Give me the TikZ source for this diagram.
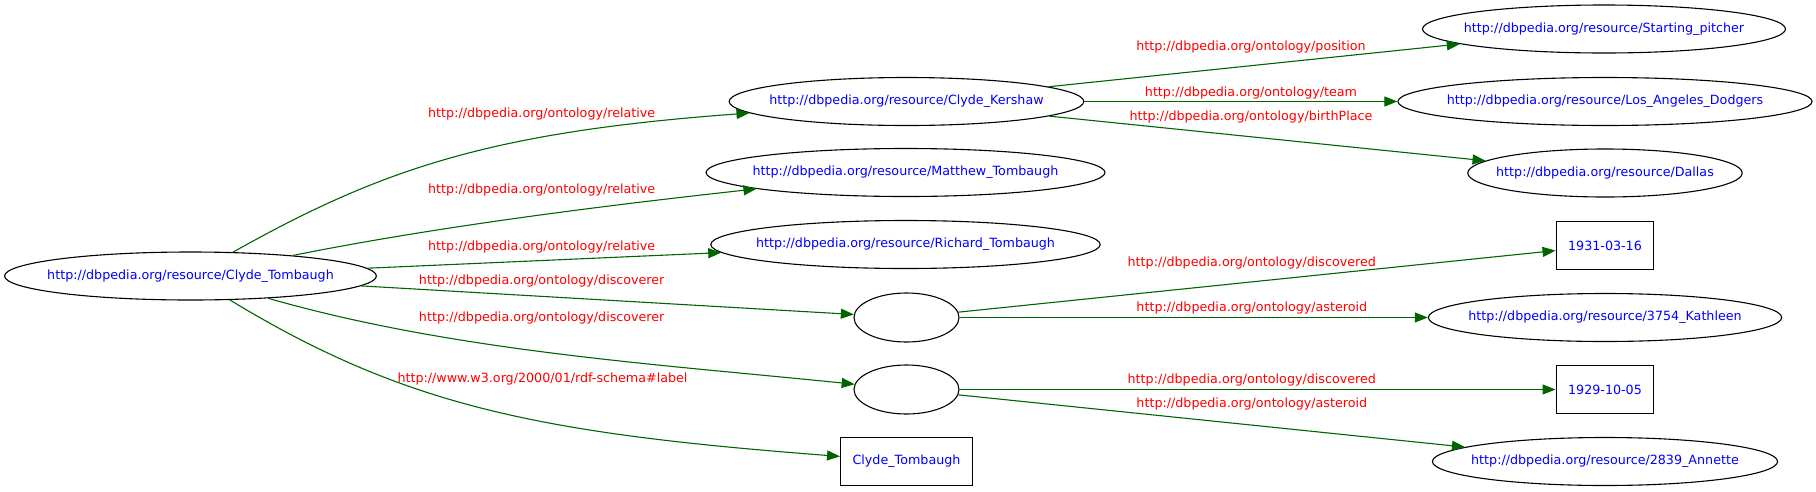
\documentclass[tikz,border=0pt]{standalone}
\usepackage{fontspec}
\setmainfont{DejaVu Sans}
\usetikzlibrary{arrows.meta,shapes.geometric}
\definecolor{linkgreen}{RGB}{0,100,0}
\tikzset{
  resnode/.style={ellipse, draw, line width=1.1pt, text=blue, inner xsep=-11.8pt, inner ysep=4pt, minimum height=48pt},
  blanknode/.style={ellipse, draw, line width=1.1pt, minimum width=105pt, minimum height=49pt},
  litnode/.style={rectangle, draw, line width=1.1pt, text=blue, inner xsep=12pt, minimum height=48pt},
  link/.style={draw=linkgreen, line width=1.1pt, -{Triangle[length=13pt,width=10pt]}},
  linklabel/.style={text=red, inner sep=0pt}
}

\begin{document}
\begin{tikzpicture}[x=1pt, y=-1pt, font=\fontsize{12.7}{15}\selectfont]
  \useasboundingbox (0,0) rectangle (1816,491);
  % subject and middle column
  \node[resnode] (tomb) at (190.5,276) {http://dbpedia.org/resource/Clyde\_Tombaugh};
  \node[resnode] (kers) at (906.5,101.5) {http://dbpedia.org/resource/Clyde\_Kershaw};
  \node[resnode] (matt) at (905.5,172.5) {http://dbpedia.org/resource/Matthew\_Tombaugh};
  \node[resnode] (rich) at (905.5,244.5) {http://dbpedia.org/resource/Richard\_Tombaugh};
  \node[blanknode] (bnA) at (906.5,317.5) {};
  \node[blanknode] (bnB) at (906.5,389.5) {};
  \node[litnode] (name) at (906.5,461.5) {Clyde\_Tombaugh};
  % right column
  \node[resnode] (pitch) at (1604,29) {http://dbpedia.org/resource/Starting\_pitcher};
  \node[resnode] (dodg) at (1605,101.5) {http://dbpedia.org/resource/Los\_Angeles\_Dodgers};
  \node[resnode] (dall) at (1605,173) {http://dbpedia.org/resource/Dallas};
  \node[litnode] (dateA) at (1605,245.5) {1931-03-16};
  \node[resnode] (kath) at (1605,317.5) {http://dbpedia.org/resource/3754\_Kathleen};
  \node[litnode] (dateB) at (1605,389.5) {1929-10-05};
  \node[resnode] (anne) at (1605,461.5) {http://dbpedia.org/resource/2839\_Annette};

  % curved links
  \draw[link] (tomb) .. controls (382,168.5) and (491,132) .. (kers);
  \draw[link] (tomb) .. controls (437,226.5) and (605,205.5) .. (matt);
  \draw[link] (tomb) .. controls (452,351) and (655,364) .. (bnB);
  \draw[link] (tomb) .. controls (406,407) and (541,433.5) .. (name);
  % straight links
  \foreach \from/\to in {tomb/rich, tomb/bnA, kers/pitch, kers/dodg, kers/dall,
                         bnA/dateA, bnA/kath, bnB/dateB, bnB/anne}
    \draw[link] (\from) -- (\to);

  % predicate labels
  \node[linklabel] (relA) at (541.7,114) {http://dbpedia.org/ontology/relative};
  \node[linklabel] (relB) at (541.7,190) {http://dbpedia.org/ontology/relative};
  \node[linklabel] (relC) at (541.7,246.7) {http://dbpedia.org/ontology/relative};
  \node[linklabel] (discA) at (541.7,280.7) {http://dbpedia.org/ontology/discoverer};
  \node[linklabel] (discB) at (541.7,318) {http://dbpedia.org/ontology/discoverer};
  \node[linklabel] (rdfs) at (542.5,379.3) {http://www.w3.org/2000/01/rdf-schema\#label};
  \node[linklabel] (posi) at (1251,47.3) {http://dbpedia.org/ontology/position};
  \node[linklabel] (team) at (1251,92.7) {http://dbpedia.org/ontology/team};
  \node[linklabel] (birth) at (1251,116.7) {http://dbpedia.org/ontology/birthPlace};
  \node[linklabel] (dscA) at (1251.8,263.3) {http://dbpedia.org/ontology/discovered};
  \node[linklabel] (astA) at (1251.8,308.3) {http://dbpedia.org/ontology/asteroid};
  \node[linklabel] (dscB) at (1251.8,380) {http://dbpedia.org/ontology/discovered};
  \node[linklabel] (astB) at (1251.8,404.3) {http://dbpedia.org/ontology/asteroid};
\end{tikzpicture}
\end{document}
